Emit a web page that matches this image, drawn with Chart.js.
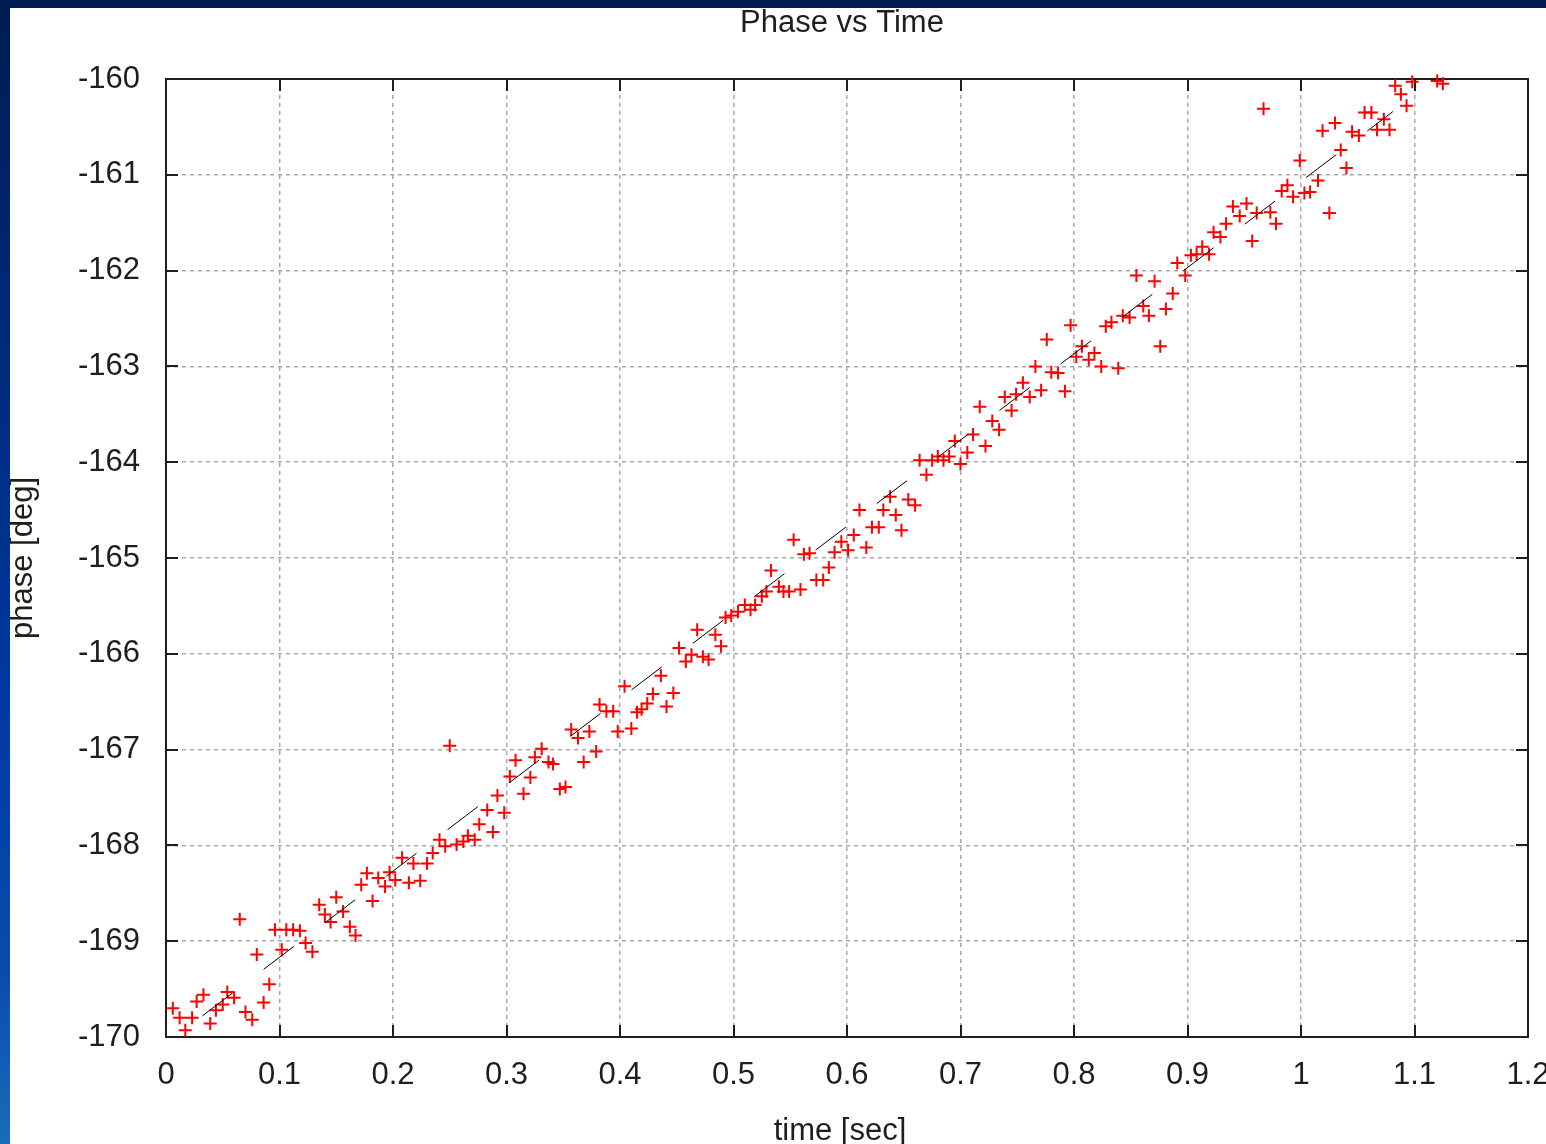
<!DOCTYPE html>
<html>
<head>
<meta charset="utf-8">
<title>Phase vs Time</title>
<script src="https://cdn.jsdelivr.net/npm/chart.js@4.4.0/dist/chart.umd.min.js"></script>
<style>
    html, body { margin: 0; padding: 0; overflow: hidden; background: #fff; }
    #quadro { position: relative; width: 1546px; height: 1144px; background: #fff; }
    #grafico-fase { position: absolute; left: 0; top: 0; }
    .faixa-topo { position: absolute; left: 0; top: 0; width: 1546px; height: 8px; background: #001b52; }
    .faixa-esq { position: absolute; left: 0; top: 0; width: 10px; height: 1144px;
        background: linear-gradient(#001b52 0%, #002a7a 30%, #0038a0 60%, #0a4cae 85%, #1a6cbc 100%); }
</style>
</head>
<body>
<div id="quadro">
    <canvas id="grafico-fase" width="1546" height="1144"></canvas>
    <div class="faixa-topo"></div>
    <div class="faixa-esq"></div>
</div>
<script>
/* DADOS MEDIDOS */
const timeSec = [
    0.006, 0.012, 0.017, 0.023, 0.027, 0.033, 0.039, 0.044, 0.050, 0.054,
    0.060, 0.065, 0.070, 0.076, 0.080, 0.086, 0.091, 0.096, 0.102, 0.106,
    0.112, 0.118, 0.123, 0.129, 0.135, 0.140, 0.145, 0.150, 0.156, 0.162,
    0.167, 0.172, 0.177, 0.182, 0.187, 0.193, 0.197, 0.202, 0.208, 0.214,
    0.218, 0.224, 0.230, 0.235, 0.241, 0.246, 0.250, 0.256, 0.262, 0.266,
    0.272, 0.276, 0.283, 0.288, 0.292, 0.298, 0.303, 0.308, 0.315, 0.321,
    0.325, 0.331, 0.337, 0.341, 0.347, 0.352, 0.357, 0.363, 0.368, 0.373,
    0.379, 0.382, 0.388, 0.394, 0.398, 0.404, 0.410, 0.415, 0.419, 0.424,
    0.429, 0.436, 0.441, 0.447, 0.452, 0.458, 0.463, 0.468, 0.473, 0.478,
    0.484, 0.489, 0.493, 0.498, 0.504, 0.510, 0.515, 0.519, 0.525, 0.529,
    0.533, 0.540, 0.544, 0.549, 0.553, 0.559, 0.562, 0.567, 0.573, 0.579,
    0.584, 0.589, 0.595, 0.601, 0.606, 0.611, 0.617, 0.622, 0.628, 0.632,
    0.638, 0.643, 0.648, 0.654, 0.660, 0.664, 0.670, 0.675, 0.680, 0.685,
    0.690, 0.695, 0.700, 0.706, 0.711, 0.717, 0.722, 0.728, 0.734, 0.739,
    0.745, 0.749, 0.755, 0.761, 0.766, 0.771, 0.776, 0.780, 0.786, 0.792,
    0.797, 0.802, 0.807, 0.813, 0.818, 0.824, 0.828, 0.833, 0.839, 0.843,
    0.849, 0.855, 0.861, 0.866, 0.871, 0.876, 0.881, 0.887, 0.891, 0.898,
    0.903, 0.908, 0.913, 0.919, 0.923, 0.929, 0.934, 0.940, 0.946, 0.952,
    0.957, 0.961, 0.967, 0.973, 0.978, 0.983, 0.988, 0.993, 0.999, 1.003,
    1.008, 1.015, 1.019, 1.025, 1.030, 1.035, 1.040, 1.045, 1.051, 1.056,
    1.062, 1.067, 1.073, 1.078, 1.083, 1.088, 1.093, 1.098, 1.120, 1.125
];
const phaseDeg = [
    -169.70, -169.80, -169.93, -169.80, -169.63, -169.56, -169.86, -169.72, -169.66, -169.53,
    -169.59, -168.77, -169.74, -169.82, -169.14, -169.64, -169.45, -168.88, -169.09, -168.88,
    -168.88, -168.89, -169.02, -169.11, -168.62, -168.72, -168.80, -168.54, -168.69, -168.85,
    -168.94, -168.41, -168.29, -168.58, -168.34, -168.43, -168.28, -168.36, -168.13, -168.39,
    -168.19, -168.37, -168.19, -168.08, -167.94, -168.01, -166.96, -167.99, -167.96, -167.90,
    -167.94, -167.78, -167.63, -167.86, -167.48, -167.66, -167.28, -167.11, -167.46, -167.29,
    -167.08, -166.99, -167.13, -167.15, -167.41, -167.39, -166.79, -166.88, -167.13, -166.81,
    -167.02, -166.53, -166.60, -166.60, -166.81, -166.34, -166.78, -166.61, -166.58, -166.52,
    -166.42, -166.23, -166.55, -166.41, -165.94, -166.08, -166.01, -165.75, -166.03, -166.06,
    -165.80, -165.92, -165.62, -165.60, -165.56, -165.49, -165.54, -165.49, -165.40, -165.35,
    -165.13, -165.30, -165.35, -165.35, -164.81, -165.33, -164.96, -164.95, -165.23, -165.23,
    -165.10, -164.94, -164.83, -164.92, -164.76, -164.50, -164.89, -164.68, -164.68, -164.50,
    -164.36, -164.55, -164.71, -164.39, -164.45, -163.98, -164.13, -163.98, -163.94, -163.98,
    -163.94, -163.78, -164.02, -163.90, -163.71, -163.42, -163.83, -163.57, -163.66, -163.32,
    -163.46, -163.29, -163.17, -163.32, -163.00, -163.25, -162.72, -163.06, -163.07, -163.26,
    -162.57, -162.90, -162.79, -162.93, -162.86, -163.00, -162.58, -162.54, -163.02, -162.47,
    -162.49, -162.05, -162.37, -162.47, -162.11, -162.79, -162.40, -162.24, -161.92, -162.05,
    -161.84, -161.83, -161.75, -161.83, -161.60, -161.65, -161.51, -161.33, -161.43, -161.30,
    -161.69, -161.40, -160.31, -161.39, -161.51, -161.17, -161.11, -161.23, -160.85, -161.19,
    -161.18, -161.06, -160.54, -161.40, -160.46, -160.74, -160.93, -160.55, -160.59, -160.35,
    -160.35, -160.53, -160.42, -160.53, -160.07, -160.16, -160.28, -160.03, -160.02, -160.05
];

/* RETA AJUSTADA (inicio e fim) */
const fitTime = [0.032, 1.081];
const fitPhase = [-169.78, -160.34];

/* MARCAS DOS EIXOS */
const xTicks = [0, 0.1, 0.2, 0.3, 0.4, 0.5, 0.6, 0.7, 0.8, 0.9, 1, 1.1, 1.2];
const xTickLabels = ["0", "0.1", "0.2", "0.3", "0.4", "0.5", "0.6", "0.7", "0.8", "0.9", "1", "1.1", "1.2"];
const yTicks = [-170, -169, -168, -167, -166, -165, -164, -163, -162, -161, -160];
const yTickLabels = ["-170", "-169", "-168", "-167", "-166", "-165", "-164", "-163", "-162", "-161", "-160"];

const fonte = "'Liberation Sans', Arial, sans-serif";
const corTexto = "#1e1e1e";

/* MOLDURA COM MARCAS PARA DENTRO + TITULOS */
const moldura = {
    id: 'moldura',
    beforeDatasetsDraw(chart) {
        const { ctx, chartArea: a, scales: { x, y } } = chart;
        const tam = 12;
        ctx.save();
        ctx.strokeStyle = '#1e1e1e';
        ctx.lineWidth = 2;
        ctx.beginPath();
        xTicks.forEach(v => {
            const px = Math.round(x.getPixelForValue(v));
            ctx.moveTo(px, a.bottom); ctx.lineTo(px, a.bottom - tam);
            ctx.moveTo(px, a.top); ctx.lineTo(px, a.top + tam);
        });
        yTicks.forEach(v => {
            const py = Math.round(y.getPixelForValue(v));
            ctx.moveTo(a.left, py); ctx.lineTo(a.left + tam, py);
            ctx.moveTo(a.right, py); ctx.lineTo(a.right - tam, py);
        });
        ctx.stroke();
        ctx.strokeRect(a.left, a.top, a.right - a.left, a.bottom - a.top);
        ctx.restore();
    },
    afterDraw(chart) {
        const { ctx, chartArea: a } = chart;
        const meio = (a.left + a.right) / 2;
        ctx.save();
        ctx.font = "31px " + fonte;
        ctx.fillStyle = corTexto;
        ctx.textAlign = 'center';
        ctx.textBaseline = 'alphabetic';
        ctx.fillText('Phase vs Time', meio - 5, 32);
        ctx.fillText('time [sec]', meio - 7, a.bottom + 103);
        ctx.restore();
    }
};

new Chart(document.getElementById("grafico-fase"), {
    type: 'scatter',
    data: {
        datasets: [{
            type: 'line',
            data: fitTime.map((t, i) => ({ x: t, y: fitPhase[i] })),
            borderColor: "#000000",
            borderWidth: 1,
            borderDash: [38, 39],
            pointRadius: 0,
            fill: false,
            order: 0
        }, {
            data: timeSec.map((t, i) => ({ x: t, y: phaseDeg[i] })),
            pointStyle: 'cross',
            pointRadius: 6.5,
            pointBorderWidth: 2,
            pointBorderColor: "#ff0000",
            pointBackgroundColor: "#ff0000",
            clip: false,
            order: 1
        }]
    },
    options: {
        responsive: false,
        animation: false,
        events: [],
        layout: { padding: { left: 0, right: 18, top: 79, bottom: 0 } },
        plugins: {
            legend: { display: false },
            tooltip: { enabled: false },
            title: { display: false }
        },
        scales: {
            x: {
                type: 'linear',
                min: 0,
                max: 1.2,
                afterBuildTicks: scale => { scale.ticks = xTicks.map(v => ({ value: v })); },
                afterFit: scale => {
                    scale.height = 107;
                    scale.paddingLeft = 0;
                    scale.paddingRight = 0;
                },
                ticks: {
                    callback: (v, i) => xTickLabels[i],
                    font: { family: fonte, size: 31 },
                    color: corTexto,
                    padding: 20,
                    maxRotation: 0,
                    autoSkip: false
                },
                grid: { color: '#a8a8a8', lineWidth: 1.5, drawTicks: false },
                border: { display: false, dash: [4, 4] },
                title: { display: false }
            },
            y: {
                type: 'linear',
                min: -170,
                max: -160,
                afterBuildTicks: scale => { scale.ticks = yTicks.map(v => ({ value: v })); },
                afterFit: scale => {
                    scale.width = 166;
                    scale.paddingTop = 0;
                    scale.paddingBottom = 0;
                },
                ticks: {
                    callback: (v, i) => yTickLabels[i],
                    font: { family: fonte, size: 31 },
                    color: corTexto,
                    padding: 26,
                    autoSkip: false
                },
                grid: { color: '#a8a8a8', lineWidth: 1.5, drawTicks: false },
                border: { display: false, dash: [4, 4] },
                title: {
                    display: true,
                    text: 'phase [deg]',
                    font: { family: fonte, size: 31, lineHeight: 1 },
                    color: corTexto,
                    padding: { top: 8, bottom: 0 }
                }
            }
        }
    },
    plugins: [moldura]
});
</script>
</body>
</html>
